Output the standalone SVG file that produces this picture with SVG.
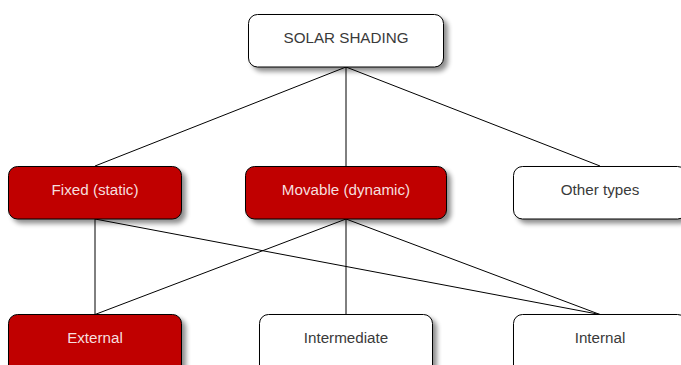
<svg xmlns="http://www.w3.org/2000/svg" width="681" height="365" viewBox="0 0 681 365">
  <defs>
    <filter id="shadow" x="-10%" y="-20%" width="130%" height="160%">
      <feGaussianBlur in="SourceAlpha" stdDeviation="2.5"/>
      <feOffset dx="4" dy="4" result="blur"/>
      <feComponentTransfer><feFuncA type="linear" slope="0.45"/></feComponentTransfer>
      <feMerge><feMergeNode/><feMergeNode in="SourceGraphic"/></feMerge>
    </filter>
  </defs>
  <style>
    .box { stroke: #000; stroke-width: 1; filter: url(#shadow); }
    .light { fill: #fff; }
    .red { fill: #c00000; }
    .lbl { font-family: "Liberation Sans", Arial, sans-serif; font-size: 15.2px; text-anchor: middle; dominant-baseline: central; }
    .dark { fill: #3a3a3a; }
    .pale { fill: #f6dede; }
    .conn line { stroke: #000; stroke-width: 1; }
  </style>
  <rect width="681" height="365" fill="#fff"/>

  <g id="connectors" class="conn">
    <line x1="346" y1="67" x2="95" y2="166"/>
    <line x1="346" y1="67" x2="346" y2="166"/>
    <line x1="346" y1="67" x2="600" y2="166"/>
    <line x1="95" y1="219" x2="95" y2="314.5"/>
    <line x1="95" y1="219" x2="600" y2="314.5"/>
    <line x1="346" y1="219" x2="95" y2="314.5"/>
    <line x1="346" y1="219" x2="346" y2="314.5"/>
    <line x1="346" y1="219" x2="600" y2="314.5"/>
  </g>

  <g id="solar-shading">
    <rect class="box light" x="248.5" y="14.5" width="195" height="52.5" rx="9"/>
    <text class="lbl dark" x="346" y="37">SOLAR SHADING</text>
  </g>

  <g id="fixed">
    <rect class="box red" x="8.5" y="166.5" width="173" height="52.5" rx="9"/>
    <text class="lbl pale" x="95" y="189.5">Fixed (static)</text>
  </g>

  <g id="movable">
    <rect class="box red" x="245.5" y="166.5" width="201" height="52.5" rx="9"/>
    <text class="lbl pale" x="346" y="189.5">Movable (dynamic)</text>
  </g>

  <g id="other-types">
    <rect class="box light" x="513.5" y="166.5" width="173" height="52.5" rx="9"/>
    <text class="lbl dark" x="600" y="189.5">Other types</text>
  </g>

  <g id="external">
    <rect class="box red" x="8.5" y="314.5" width="173" height="60" rx="9"/>
    <text class="lbl pale" x="95" y="337.5">External</text>
  </g>

  <g id="intermediate">
    <rect class="box light" x="259.5" y="314.5" width="173" height="60" rx="9"/>
    <text class="lbl dark" x="346" y="337.5">Intermediate</text>
  </g>

  <g id="internal">
    <rect class="box light" x="513.5" y="314.5" width="173" height="60" rx="9"/>
    <text class="lbl dark" x="600" y="337.5">Internal</text>
  </g>
</svg>
